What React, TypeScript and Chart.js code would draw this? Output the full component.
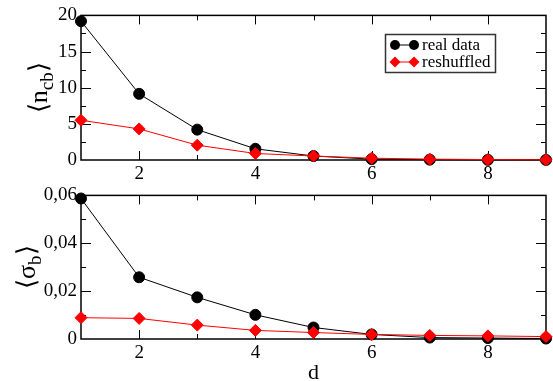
import { useEffect, useRef } from 'react';
import { Chart, registerables } from 'chart.js';

Chart.register(...registerables);

// ---- data ----
const dValues = [1, 2, 3, 4, 5, 6, 7, 8, 9];
const ncbReal = [19.2, 9.15, 4.2, 1.55, 0.55, 0.12, 0.05, 0.02, 0.01];
const ncbShuffled = [5.5, 4.3, 2.05, 0.9, 0.55, 0.25, 0.12, 0.06, 0.03];
const sigmaReal = [0.0587, 0.0258, 0.0174, 0.0101, 0.0048, 0.0019, 0.0006, 0.0004, 0.0002];
const sigmaShuffled = [0.0089, 0.0086, 0.0058, 0.0036, 0.0027, 0.0019, 0.0015, 0.0013, 0.001];
const xTicks = [2, 4, 6, 8];
const ncbTicks = [0, 5, 10, 15, 20];
const sigmaTicks = [0, 0.02, 0.04, 0.06];
const seriesLabels = ['real data', 'reshuffled'];
const xTitle = 'd';

const SERIF = '"Liberation Serif"';
const RED = '#ff0000';

function fmtComma(v: number): string {
  if (v === 0) return '0';
  return v.toFixed(2).replace('.', ',');
}

function drawYTitle(ctx: CanvasRenderingContext2D, x: number, y: number, main: string, sub: string, size: number) {
  ctx.save();
  ctx.translate(x, y);
  ctx.rotate(-Math.PI / 2);
  const fMain = `${size}px ${SERIF}`;
  const fSub = `${Math.round(size * 0.72)}px ${SERIF}`;
  ctx.font = fMain;
  const wL = ctx.measureText('\u27E8').width;
  const wM = ctx.measureText(main).width;
  const wR = ctx.measureText('\u27E9').width;
  ctx.font = fSub;
  const wS = ctx.measureText(sub).width;
  const total = wL + wM + wS + wR;
  let cx = -total / 2;
  ctx.fillStyle = '#000';
  ctx.textAlign = 'left';
  ctx.textBaseline = 'alphabetic';
  ctx.font = fMain;
  ctx.fillText('\u27E8', cx, 0);
  cx += wL;
  ctx.fillText(main, cx, 0);
  cx += wM;
  ctx.font = fSub;
  ctx.fillText(sub, cx, size * 0.22);
  cx += wS;
  ctx.font = fMain;
  ctx.fillText('\u27E9', cx, 0);
  ctx.restore();
}

function drawMarker(ctx: CanvasRenderingContext2D, style: string, x: number, y: number, r: number, color: string) {
  ctx.beginPath();
  if (style === 'circle') {
    ctx.arc(x, y, r, 0, Math.PI * 2);
  } else {
    ctx.moveTo(x - r, y);
    ctx.lineTo(x, y - r);
    ctx.lineTo(x + r, y);
    ctx.lineTo(x, y + r);
    ctx.closePath();
  }
  ctx.fillStyle = color;
  ctx.fill();
}

interface PanelCfg {
  yMax: number;
  yTicks: number[];
  yMinorStep: number;
  xMinorStep: number;
  real: number[];
  shuffled: number[];
  titleMain: string;
  titleSub: string;
  titleX: number;
  padTop: number;
  xAxisHeight: number;
  legend: boolean;
  xTitle: boolean;
  fmt: (v: number) => string;
}

function makeFramePlugin(cfg: PanelCfg) {
  return {
    id: 'frameTicks',
    beforeDatasetsDraw(chart: any) {
      const { ctx, chartArea } = chart;
      const { left, right, top, bottom } = chartArea;
      const xs = chart.scales.x;
      const ys = chart.scales.y;
      ctx.save();
      ctx.strokeStyle = '#000';
      ctx.lineWidth = 1;
      ctx.beginPath();
      const nx = Math.round((xs.max - xs.min) / cfg.xMinorStep);
      for (let i = 1; i < nx; i++) {
        const v = xs.min + i * cfg.xMinorStep;
        const px = Math.round(xs.getPixelForValue(v)) + 0.5;
        const major = xTicks.some((t) => Math.abs(t - v) < 1e-9);
        const len = major ? 9 : 5;
        ctx.moveTo(px, bottom);
        ctx.lineTo(px, bottom - len);
        ctx.moveTo(px, top);
        ctx.lineTo(px, top + len);
      }
      const ny = Math.round((ys.max - ys.min) / cfg.yMinorStep);
      for (let i = 1; i < ny; i++) {
        const v = ys.min + i * cfg.yMinorStep;
        const py = Math.round(ys.getPixelForValue(v)) + 0.5;
        const major = cfg.yTicks.some((t) => Math.abs(t - v) < 1e-9);
        const len = major ? 10 : 5;
        ctx.moveTo(left, py);
        ctx.lineTo(left + len, py);
        ctx.moveTo(right, py);
        ctx.lineTo(right - len, py);
      }
      ctx.stroke();
      ctx.lineWidth = 1.5;
      ctx.strokeRect(left, top, right - left, bottom - top);
      ctx.restore();
    },
    afterDraw(chart: any) {
      const { ctx, chartArea } = chart;
      drawYTitle(ctx, cfg.titleX, (chartArea.top + chartArea.bottom) / 2, cfg.titleMain, cfg.titleSub, 26);
      if (cfg.xTitle) {
        ctx.save();
        ctx.font = `22px ${SERIF}`;
        ctx.fillStyle = '#000';
        ctx.textAlign = 'center';
        ctx.textBaseline = 'alphabetic';
        ctx.fillText(xTitle, (chartArea.left + chartArea.right) / 2, chart.height - 2);
        ctx.restore();
      }
      if (cfg.legend) {
        ctx.save();
        const bx = 385.5, by = 34.5, bw = 110, bh = 38;
        ctx.fillStyle = '#fff';
        ctx.fillRect(bx, by, bw, bh);
        ctx.strokeStyle = '#333';
        ctx.lineWidth = 1.5;
        ctx.strokeRect(bx, by, bw, bh);
        const rows = [
          { label: seriesLabels[0], color: '#000', style: 'circle', r: 5, y: 45 },
          { label: seriesLabels[1], color: RED, style: 'diamond', r: 5.5, y: 62 },
        ];
        ctx.font = `17px ${SERIF}`;
        ctx.textAlign = 'left';
        ctx.textBaseline = 'middle';
        for (const row of rows) {
          ctx.strokeStyle = row.color;
          ctx.lineWidth = 1;
          ctx.beginPath();
          ctx.moveTo(395, row.y);
          ctx.lineTo(414, row.y);
          ctx.stroke();
          drawMarker(ctx, row.style, 395, row.y, row.r, row.color);
          drawMarker(ctx, row.style, 414, row.y, row.r, row.color);
          ctx.fillStyle = '#000';
          ctx.fillText(row.label, 422, row.y + 1);
        }
        ctx.restore();
      }
    },
  };
}

function buildChart(canvas: HTMLCanvasElement, cfg: PanelCfg) {
  const tickFont = { family: SERIF, size: 19 };
  return new Chart(canvas, {
    type: 'line',
    data: {
      datasets: [
        {
          label: seriesLabels[0],
          data: dValues.map((x, i) => ({ x, y: cfg.real[i] })),
          borderColor: '#000',
          backgroundColor: '#000',
          pointBackgroundColor: '#000',
          pointBorderColor: '#000',
          pointStyle: 'circle',
          pointRadius: 5.5,
          borderWidth: 1,
          tension: 0,
          clip: false,
          order: 1,
        },
        {
          label: seriesLabels[1],
          data: dValues.map((x, i) => ({ x, y: cfg.shuffled[i] })),
          borderColor: RED,
          backgroundColor: RED,
          pointBackgroundColor: RED,
          pointBorderColor: RED,
          pointStyle: 'rectRot',
          pointRadius: 6,
          borderWidth: 1,
          tension: 0,
          clip: false,
          order: 0,
        },
      ],
    },
    options: {
      animation: false,
      responsive: false,
      devicePixelRatio: 1,
      font: { family: SERIF },
      layout: { padding: { left: 0, right: 6, top: cfg.padTop, bottom: 0 } },
      plugins: { legend: { display: false }, tooltip: { enabled: false } },
      scales: {
        x: {
          type: 'linear',
          min: 1,
          max: 9,
          grid: { display: false, drawTicks: false },
          border: { display: false },
          afterBuildTicks: (s: any) => {
            s.ticks = xTicks.map((v) => ({ value: v }));
          },
          afterFit: (s: any) => {
            s.height = cfg.xAxisHeight;
          },
          ticks: { font: tickFont, color: '#000', padding: 3, maxRotation: 0, autoSkip: false },
        },
        y: {
          type: 'linear',
          min: 0,
          max: cfg.yMax,
          grid: { display: false, drawTicks: false },
          border: { display: false },
          afterBuildTicks: (s: any) => {
            s.ticks = cfg.yTicks.map((v) => ({ value: v }));
          },
          afterFit: (s: any) => {
            s.width = 81;
          },
          ticks: { font: tickFont, color: '#000', padding: 4, autoSkip: false, callback: (v: any) => cfg.fmt(Number(v)) },
        },
      },
    },
    plugins: [makeFramePlugin(cfg)],
  } as any);
}

export default function App() {
  const topRef = useRef<HTMLCanvasElement>(null);
  const botRef = useRef<HTMLCanvasElement>(null);

  useEffect(() => {
    const top = buildChart(topRef.current!, {
      yMax: 20,
      yTicks: ncbTicks,
      yMinorStep: 2.5,
      xMinorStep: 1,
      real: ncbReal,
      shuffled: ncbShuffled,
      titleMain: 'n',
      titleSub: 'cb',
      titleX: 47,
      padTop: 11,
      xAxisHeight: 20,
      legend: true,
      xTitle: false,
      fmt: (v) => String(v),
    });
    const bot = buildChart(botRef.current!, {
      yMax: 0.06,
      yTicks: sigmaTicks,
      yMinorStep: 0.01,
      xMinorStep: 1,
      real: sigmaReal,
      shuffled: sigmaShuffled,
      titleMain: '\u03C3',
      titleSub: 'b',
      titleX: 35,
      padTop: 10,
      xAxisHeight: 42,
      legend: false,
      xTitle: true,
      fmt: fmtComma,
    });
    let alive = true;
    const redraw = () => {
      if (!alive) return;
      top.update();
      bot.update();
    };
    const timers = [setTimeout(redraw, 60), setTimeout(redraw, 300)];
    return () => {
      alive = false;
      timers.forEach((t) => clearTimeout(t));
      top.destroy();
      bot.destroy();
    };
  }, []);

  return (
    <div style={{ position: 'absolute', left: 0, top: 0, width: 553, height: 381, background: '#fff' }}>
      <canvas ref={topRef} width={553} height={180} style={{ display: 'block', width: 553, height: 180 }} />
      <canvas ref={botRef} width={553} height={201} style={{ display: 'block', width: 553, height: 201 }} />
    </div>
  );
}
